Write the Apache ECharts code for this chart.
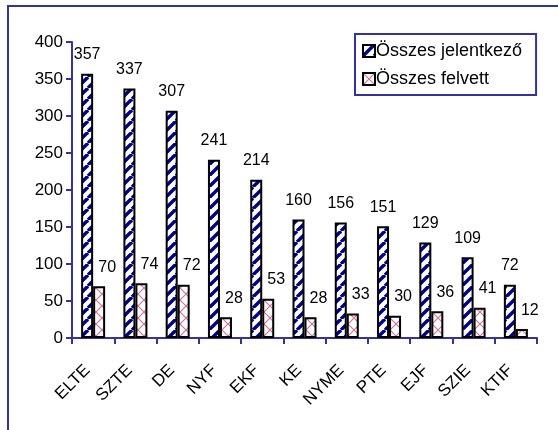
<!DOCTYPE html>
<html>
<head>
<meta charset="utf-8">
<script src="https://cdn.jsdelivr.net/npm/echarts@6/dist/echarts.min.js"></script>
<style>
  html, body { margin: 0; padding: 0; background: #fff; }
  #chart { width: 558px; height: 430px; }
</style>
</head>
<body>
<div id="chart"></div>
<script>
// adatok
const categories = ["ELTE", "SZTE", "DE", "NYF", "EKF", "KE", "NYME", "PTE", "EJF", "SZIE", "KTIF"];
const jelentkezo = [357, 337, 307, 241, 214, 160, 156, 151, 129, 109, 72];
const felvett = [70, 74, 72, 28, 53, 28, 33, 30, 36, 41, 12];
const yTicks = { min: 0, max: 400, interval: 50 };

const axisColor = "#33339a";
const font = "Arial, 'Liberation Sans', sans-serif";

// csíkos minta (kék)
function stripes() {
  const s = 11;
  const c = document.createElement("canvas");
  c.width = s; c.height = s;
  const g = c.getContext("2d");
  g.fillStyle = "#fff";
  g.fillRect(0, 0, s, s);
  g.strokeStyle = "#000080";
  g.lineWidth = 3.4;
  for (let x = -s; x <= s; x += s) {
    g.beginPath();
    g.moveTo(x, s);
    g.lineTo(x + s, 0);
    g.stroke();
  }
  return c;
}
// rácsos minta (rózsaszín)
function hatch() {
  const s = 12;
  const c = document.createElement("canvas");
  c.width = s; c.height = s;
  const g = c.getContext("2d");
  g.fillStyle = "#fff";
  g.fillRect(0, 0, s, s);
  g.strokeStyle = "#cc7799";
  g.lineWidth = 1.2;
  g.beginPath();
  g.moveTo(0, 0); g.lineTo(s, s);
  g.moveTo(s, 0); g.lineTo(0, s);
  g.stroke();
  return c;
}

const chart = echarts.init(document.getElementById("chart"));
chart.setOption({
  animation: false,
  textStyle: { fontFamily: font },
  graphic: [{
    type: "rect",
    shape: { x: 8, y: 6, width: 600, height: 500 },
    style: { fill: null, stroke: axisColor, lineWidth: 2 },
    silent: true
  }],
  legend: {
    orient: "vertical",
    left: 355,
    top: 34,
    padding: [8, 14, 7, 7],
    itemGap: 10,
    itemWidth: 12,
    itemHeight: 12,
    icon: "rect",
    borderColor: axisColor,
    borderWidth: 2,
    backgroundColor: "#fff",
    textStyle: { fontSize: 18, color: "#000", padding: [0, 0, 0, -4] },
    data: ["Összes jelentkező", "Összes felvett"]
  },
  grid: { left: 72, right: 21, top: 42, bottom: 92 },
  xAxis: {
    type: "category",
    data: categories,
    axisLine: { lineStyle: { color: axisColor, width: 2 } },
    axisTick: { show: true, length: 6, lineStyle: { color: axisColor, width: 2 } },
    axisLabel: { rotate: 45, margin: 24, padding: [0, 8, 0, 0], fontSize: 17, color: "#000", interval: 0 }
  },
  yAxis: {
    type: "value",
    min: yTicks.min,
    max: yTicks.max,
    interval: yTicks.interval,
    splitLine: { show: false },
    axisLine: { show: true, lineStyle: { color: axisColor, width: 2 } },
    axisTick: { show: true, length: 6, lineStyle: { color: axisColor, width: 2 } },
    axisLabel: { fontSize: 17, color: "#000", margin: 9 }
  },
  series: [
    {
      name: "Összes jelentkező",
      type: "bar",
      data: jelentkezo,
      barWidth: 12,
      barGap: "0%",
      itemStyle: { color: { image: stripes(), repeat: "repeat" }, borderColor: "#000", borderWidth: 2 },
      label: { show: true, position: "top", distance: 11, fontSize: 16, color: "#000" }
    },
    {
      name: "Összes felvett",
      type: "bar",
      data: felvett,
      barWidth: 12,
      itemStyle: { color: { image: hatch(), repeat: "repeat" }, borderColor: "#000", borderWidth: 2 },
      label: { show: true, position: "top", distance: 11, offset: [8, 0], fontSize: 16, color: "#000" }
    }
  ]
});
window.addEventListener("resize", () => chart.resize());
</script>
</body>
</html>
